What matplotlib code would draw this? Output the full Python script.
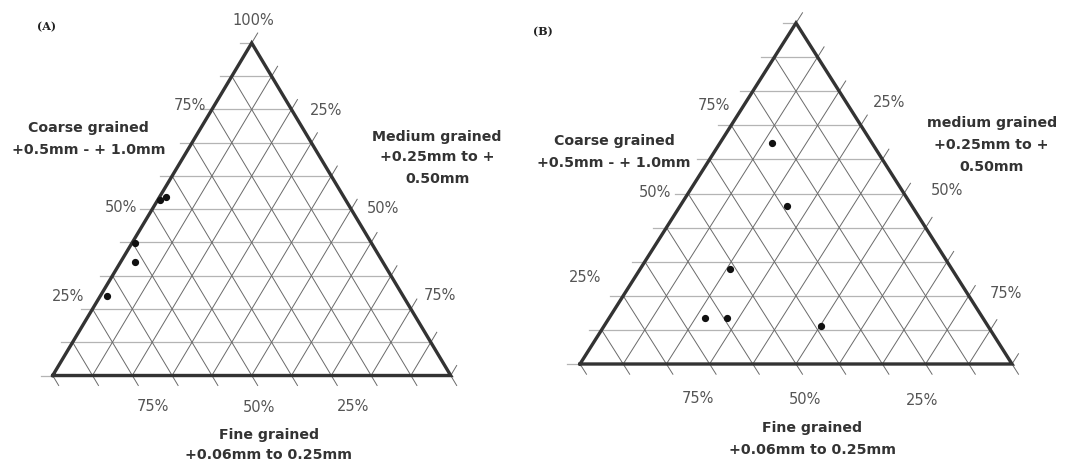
import numpy as np
import matplotlib.pyplot as plt

# porcentajes: grueso (vertice superior), medio (vertice derecho), fino (vertice izquierdo)
a_coarse = [52.8, 53.7, 39.8, 34.1, 23.9]
a_medium = [0.6, 1.6, 0.8, 3.6, 1.7]
a_fine = [46.6, 44.7, 59.4, 62.3, 74.4]

b_coarse = [64.7, 46.3, 27.9, 13.5, 13.5, 11.2]
b_medium = [12.0, 24.7, 20.8, 22.2, 27.3, 50.1]
b_fine = [23.3, 29.0, 51.3, 64.3, 59.2, 38.7]

tick_labels = ["25%", "50%", "75%"]
coarse_title = ["Coarse grained", "+0.5mm - + 1.0mm"]
medium_title_a = ["Medium grained", "+0.25mm to +", "0.50mm"]
medium_title_b = ["medium grained", "+0.25mm to +", "0.50mm"]
fine_title = ["Fine grained", "+0.06mm to 0.25mm"]

W, H = 1068, 463
PCT = dict(fontsize=10.5, color="#555555", family="DejaVu Sans", ha="center", va="center")
TIT = dict(fontsize=10.2, color="#333333", family="DejaVu Sans", weight="bold", ha="center", va="center")


def tern(c, m):
    """coordenadas del triangulo a partir de fracciones grueso / medio"""
    return m + c / 2.0, c


def tern_pts(coarse, medium, fine):
    c = np.array(coarse, float)
    m = np.array(medium, float)
    tot = c + m + np.array(fine, float)
    return tern(c / tot, m / tot)


def make_axes(fig, px0, px1, left, right, base, apex):
    """ejes cuyo triangulo cae en los pixeles dados"""
    w = right - left
    h = base - apex
    ax = fig.add_axes([px0 / W, 0, (px1 - px0) / W, 1])
    ax.set_xlim((px0 - left) / w, (px1 - left) / w)
    ax.set_ylim((base - H) / h, base / h)
    ax.axis("off")
    return ax


def draw_triangle(ax, ext=0.03):
    vals = np.linspace(0, 1, 11)
    for v in vals:
        # grueso constante (horizontales, marca a la izquierda)
        x, y = zip(tern(v, -ext), tern(v, 1 - v))
        ax.plot(x, y, color="#b4b4b4", lw=0.9, zorder=1)
        # fino constante (marca bajo la base)
        x, y = zip(tern(1 - v, 0), tern(-ext, 1 - v + ext))
        ax.plot(x, y, color="#6a6a6a", lw=0.7, zorder=2)
        # medio constante (marca a la derecha)
        x, y = zip(tern(0, v), tern(1 - v + ext, v))
        ax.plot(x, y, color="#6a6a6a", lw=0.7, zorder=2)
    tx = [0, 1, 0.5, 0]
    ty = [0, 0, 1, 0]
    ax.plot(tx, ty, color="#333333", lw=2.4, solid_joinstyle="miter", zorder=3)


fig = plt.figure(figsize=(W / 100, H / 100), dpi=100)

# (A)
axA = make_axes(fig, 0, 520, 52.7, 450.7, 375.5, 43)
draw_triangle(axA)
xa, ya = tern_pts(a_coarse, a_medium, a_fine)
axA.plot(xa, ya, "o", color="#111111", ms=4.2, zorder=4)

axA.text(-0.015, 1.049, "(A)", fontsize=8, family="DejaVu Serif", weight="bold", color="#222222",
         ha="center", va="center")
axA.text(0.504, 1.067, "100%", **PCT)
for lab, pos in zip(tick_labels[::-1], [(0.345, 0.811), (0.171, 0.506), (0.039, 0.237)]):
    axA.text(pos[0], pos[1], lab, **PCT)
for lab, pos in zip(tick_labels, [(0.687, 0.798), (0.829, 0.503), (0.973, 0.242)]):
    axA.text(pos[0], pos[1], lab, **PCT)
for lab, pos in zip(tick_labels[::-1], [(0.253, -0.092), (0.519, -0.096), (0.755, -0.092)]):
    axA.text(pos[0], pos[1], lab, **PCT)
for txt, y in zip(coarse_title, [0.743, 0.678]):
    axA.text(0.0895, y, txt, **TIT)
for txt, y in zip(medium_title_a, [0.717, 0.657, 0.591]):
    axA.text(0.966, y, txt, **TIT)
for txt, y in zip(fine_title, [-0.179, -0.239]):
    axA.text(0.543, y, txt, **TIT)

# (B)
axB = make_axes(fig, 520, 1068, 580, 1012, 364, 23)
draw_triangle(axB)
xb, yb = tern_pts(b_coarse, b_medium, b_fine)
axB.plot(xb, yb, "o", color="#111111", ms=4.2, zorder=4)

axB.text(-0.086, 0.974, "(B)", fontsize=8, family="DejaVu Serif", weight="bold", color="#222222",
         ha="center", va="center")
for lab, pos in zip(tick_labels[::-1], [(0.310, 0.757), (0.173, 0.502), (0.011, 0.253)]):
    axB.text(pos[0], pos[1], lab, **PCT)
for lab, pos in zip(tick_labels, [(0.715, 0.766), (0.849, 0.508), (0.986, 0.207)]):
    axB.text(pos[0], pos[1], lab, **PCT)
for lab, pos in zip(tick_labels[::-1], [(0.274, -0.101), (0.521, -0.104), (0.792, -0.106)]):
    axB.text(pos[0], pos[1], lab, **PCT)
for txt, y in zip(coarse_title, [0.654, 0.589]):
    axB.text(0.079, y, txt, **TIT)
for txt, y in zip(medium_title_b, [0.708, 0.642, 0.579]):
    axB.text(0.953, y, txt, **TIT)
for txt, y in zip(fine_title, [-0.189, -0.252]):
    axB.text(0.538, y, txt, **TIT)

fig.savefig("out.png", dpi=100)
